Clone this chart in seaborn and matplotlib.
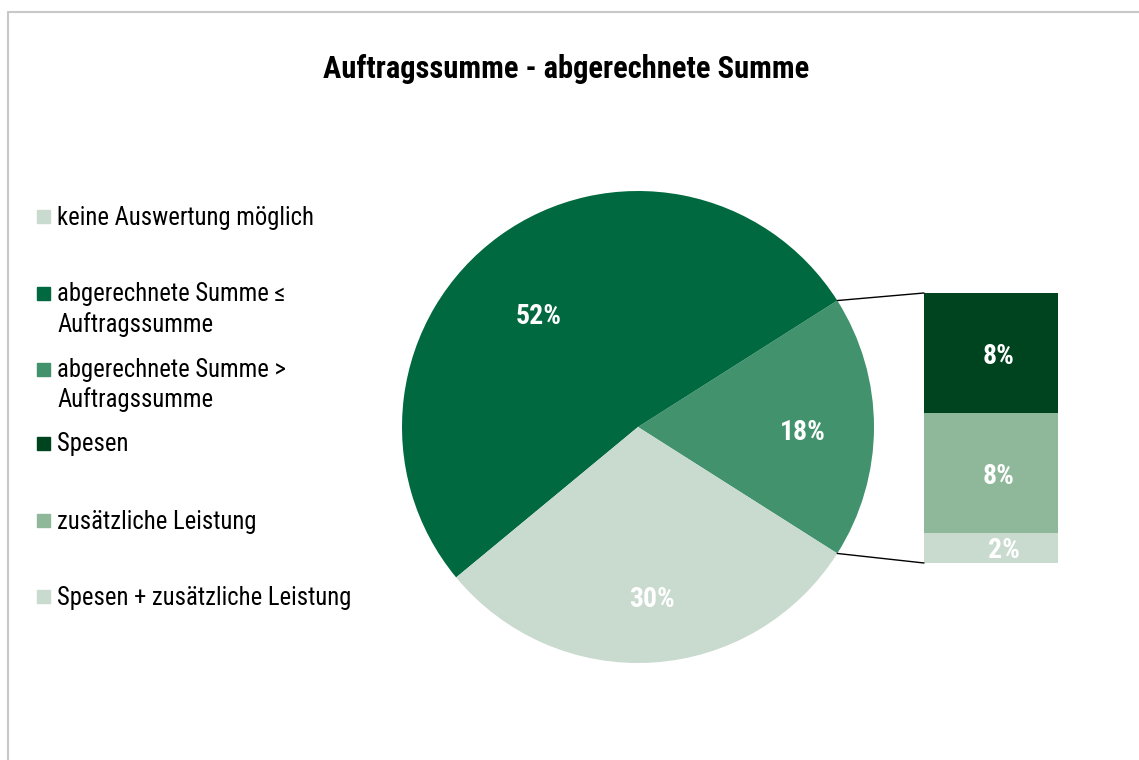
import matplotlib
matplotlib.use("Agg")
import matplotlib.pyplot as plt
from matplotlib.patches import Rectangle, ConnectionPatch
import seaborn as sns
import numpy as np

# ---- data ----
pie_labels = ["abgerechnete Summe >\nAuftragssumme", "abgerechnete Summe ≤\nAuftragssumme", "keine Auswertung möglich"]
pie_values = [18, 52, 30]
bar_labels = ["Spesen + zusätzliche Leistung", "zusätzliche Leistung", "Spesen"]
bar_values = [2, 8, 8]
legend_order = ["keine Auswertung möglich", "abgerechnete Summe ≤\nAuftragssumme",
                "abgerechnete Summe >\nAuftragssumme", "Spesen", "zusätzliche Leistung",
                "Spesen + zusätzliche Leistung"]
title = "Auftragssumme - abgerechnete Summe"

# ---- style ----
sns.set_theme(style="white")
FONT = ["Roboto Condensed", "Liberation Sans", "DejaVu Sans"]
plt.rcParams["font.family"] = FONT
plt.rcParams["text.color"] = "black"

c_dark = "#00693F"
c_mid = "#42936D"
c_light = "#C9DACF"
c_darkest = "#00441F"
c_midlight = "#8FB89A"
colors = {
    "keine Auswertung möglich": c_light,
    "abgerechnete Summe ≤\nAuftragssumme": c_dark,
    "abgerechnete Summe >\nAuftragssumme": c_mid,
    "Spesen": c_darkest,
    "zusätzliche Leistung": c_midlight,
    "Spesen + zusätzliche Leistung": c_light,
}

W, H = 1139, 760
fig = plt.figure(figsize=(W / 100, H / 100), dpi=100)
fig.patch.set_facecolor("white")

# border (top & left)
fig.add_artist(plt.Line2D([8 / W, 8 / W], [0, 1 - 12 / H], color="#C8C8C8", lw=1.5))
fig.add_artist(plt.Line2D([8 / W, 1], [1 - 12 / H, 1 - 12 / H], color="#C8C8C8", lw=1.5))

fig.text(566 / W, 1 - 78 / H, title, ha="center", va="baseline", fontsize=22, fontweight="bold")

# ---- pie ----
cx, cy, r = 638, 427, 236
ax = fig.add_axes([(cx - r) / W, (H - cy - r) / H, 2 * r / W, 2 * r / H])
start = -pie_values[0] / 100 * 360 / 2
wedges, _ = ax.pie(pie_values, colors=[colors[l] for l in pie_labels],
                   startangle=start, counterclock=True, radius=1,
                   wedgeprops=dict(linewidth=0, edgecolor="none"))
label_dist = [0.70, 0.64, 0.72]
label_shift = [-1, 5, 1]
for w, v, d, s in zip(wedges, pie_values, label_dist, label_shift):
    ang = np.deg2rad((w.theta1 + w.theta2) / 2 + s)
    ax.text(d * np.cos(ang), d * np.sin(ang), f"{v}%", ha="center", va="center_baseline",
            color="white", fontsize=20, fontweight="bold")
ax.set_xlim(-1, 1)
ax.set_ylim(-1, 1)
ax.set_aspect("equal")
ax.axis("off")

# ---- bar of pie ----
bx0, bx1, by0, by1 = 924, 1058, 293, 563
bax = fig.add_axes([bx0 / W, (H - by1) / H, (bx1 - bx0) / W, (by1 - by0) / H])
bottom = 0
for lab, v in zip(bar_labels, bar_values):
    bax.bar(0, v, bottom=bottom, width=1, color=colors[lab], edgecolor="none", linewidth=0)
    bax.text(0.1 if v < 5 else 0.06, bottom + v / 2, f"{v}%", ha="center", va="center_baseline",
             color="white", fontsize=20, fontweight="bold")
    bottom += v
bax.set_xlim(-0.5, 0.5)
bax.set_ylim(0, sum(bar_values))
bax.axis("off")

# connector lines
a1 = np.deg2rad(start + 360 * pie_values[0] / 100)
a0 = np.deg2rad(start)
for ang, yb in [(a1, sum(bar_values)), (a0, 0)]:
    con = ConnectionPatch(xyA=(np.cos(ang), np.sin(ang)), coordsA=ax.transData,
                          xyB=(-0.5, yb), coordsB=bax.transData, color="black", lw=1)
    fig.add_artist(con)

# ---- legend ----
leg_y = [216, 293, 369, 443, 520, 596]
for lab, y in zip(legend_order, leg_y):
    n_extra = lab.count("\n")
    fig.add_artist(Rectangle((37 / W, 1 - (y + 7) / H), 13 / W, 13 / H,
                             transform=fig.transFigure, color=colors[lab]))
    fig.text(57 / W, 1 - (y + 8.5 + 30 * n_extra) / H, lab, ha="left", va="baseline",
             fontsize=17.7, linespacing=1.3)

fig.savefig("out.png", dpi=100, facecolor="white")
